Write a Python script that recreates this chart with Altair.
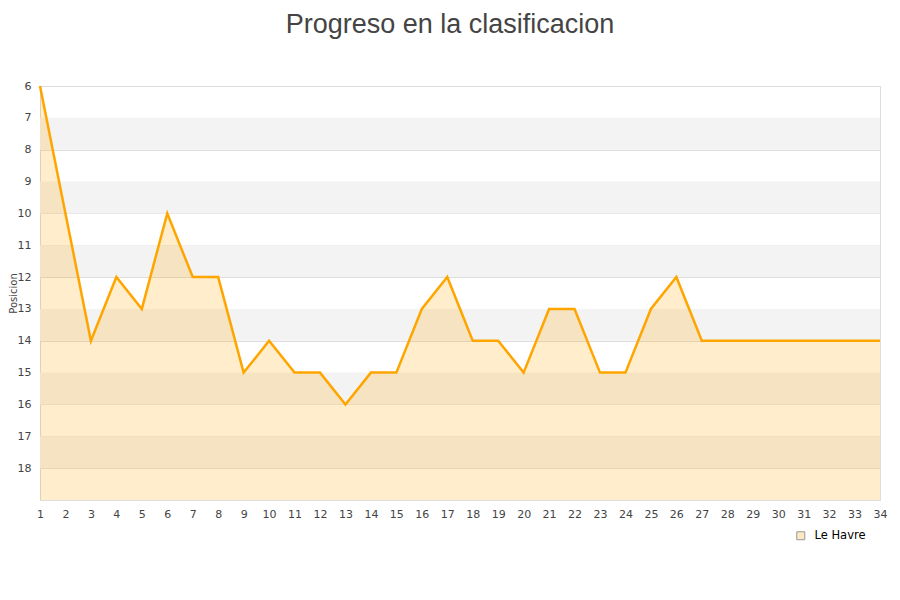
import altair as alt
import pandas as pd

jornadas = list(range(1, 35))
posiciones = [6, 10, 14, 12, 13, 10, 12, 12, 15, 14, 15, 15, 16, 15, 15, 13, 12, 14, 14, 15,
              13, 13, 15, 15, 13, 12, 14, 14, 14, 14, 14, 14, 14, 14]
equipo = "Le Havre"
band_starts = [7, 9, 11, 13, 15, 17]
y_ticks = list(range(6, 19))

df = pd.DataFrame({"jornada": jornadas, "pos": posiciones, "equipo": [equipo] * len(jornadas)})
bands = pd.DataFrame({"y0": band_starts, "y1": [b + 1 for b in band_starts]})

xscale = alt.Scale(domain=[1, 34], nice=False, zero=False)
yscale = alt.Scale(domain=[6, 19], reverse=True, nice=False, zero=False)

x_axis = alt.Axis(title=None, values=jornadas, tickSize=0, labelPadding=8,
                  grid=False, domain=False, format="d", labelOverlap=False,
                  labelFlush=False)
y_axis = alt.Axis(title="Posicion", values=y_ticks, tickSize=0, labelPadding=9,
                  grid=True, gridColor="#dddddd", domain=False, format="d",
                  labelOverlap=False, labelFlush=False,
                  titleFontSize=10, titleFont="DejaVu Sans", titleFontWeight="normal",
                  titleColor="#444", titleX=-27, titleY=207, titleAngle=270,
                  titleBaseline="middle", titleAlign="center")

band_layer = alt.Chart(bands).mark_rect(color="#f3f3f3").encode(
    y=alt.Y("y0:Q", scale=yscale, axis=y_axis),
    y2="y1:Q",
    x=alt.value(0),
    x2=alt.value(840),
)

area = alt.Chart(df).mark_area(opacity=0.2, color="orange").encode(
    x=alt.X("jornada:Q", scale=xscale, axis=x_axis),
    y=alt.Y("pos:Q", scale=yscale, axis=y_axis),
    y2=alt.datum(19),
)

line = alt.Chart(df).mark_line(color="orange", strokeWidth=2.5).encode(
    x=alt.X("jornada:Q", scale=xscale, axis=x_axis),
    y=alt.Y("pos:Q", scale=yscale, axis=y_axis),
)

legend_layer = alt.Chart(df.head(1)).mark_square(
    size=81, stroke="#999999", strokeWidth=1, opacity=1, clip=True
).encode(
    x=alt.value(-200),
    y=alt.value(-200),
    fill=alt.Fill("equipo:N", scale=alt.Scale(domain=[equipo], range=["#fde8c4"]),
                  legend=alt.Legend(title=None, orient="none", legendX=755, legendY=444,
                                    symbolType="square", symbolSize=64,
                                    symbolStrokeColor="#999999", symbolStrokeWidth=1,
                                    labelFont="DejaVu Sans", labelFontSize=11.5,
                                    labelOffset=8, labelColor="#000")),
)

chart = alt.layer(band_layer, area, line, legend_layer).properties(
    width=840, height=414,
    autosize=alt.AutoSizeParams(type="none"),
    padding={"left": 32, "top": 78, "right": 12, "bottom": 92},
    title=alt.TitleParams("Progreso en la clasificacion", font="Liberation Sans", fontSize=27,
                          fontWeight="normal", color="#444", anchor="middle", dx=-10, offset=41),
).configure_view(stroke="#dddddd").configure_axis(
    labelFont="DejaVu Sans", labelFontSize=11, labelColor="#444", labelOverlap=False
)

chart.save("out.html", embed_options={"renderer": "svg", "actions": False})
